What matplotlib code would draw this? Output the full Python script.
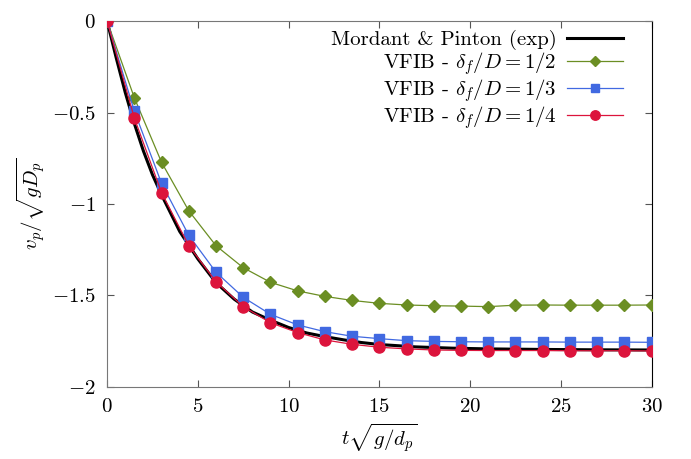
import matplotlib
matplotlib.use("Agg")
import matplotlib.pyplot as plt

plt.rcParams['mathtext.fontset'] = 'cm'
plt.rcParams['font.family'] = ['cmr10', 'DejaVu Serif']
plt.rcParams['axes.unicode_minus'] = False
plt.rcParams['font.size'] = 15

t_exp = [0, 0.5, 1, 1.5, 2, 2.5, 3, 4, 5, 6, 7, 8, 9, 10, 11, 12, 13, 14, 15,
         17, 19, 21, 24, 27, 30]
v_exp = [0, -0.20, -0.39, -0.56, -0.71, -0.84, -0.95, -1.15, -1.30, -1.43,
         -1.52, -1.59, -1.635, -1.675, -1.705, -1.725, -1.742, -1.757, -1.768,
         -1.781, -1.788, -1.792, -1.795, -1.797, -1.798]

# simulation samples
t_sim = [0, 1.5, 3, 4.5, 6, 7.5, 9, 10.5, 12, 13.5, 15, 16.5, 18, 19.5, 21,
         22.5, 24, 25.5, 27, 28.5, 30]
v_half = [0, -0.419, -0.772, -1.037, -1.228, -1.348, -1.428, -1.475, -1.505,
          -1.527, -1.543, -1.552, -1.556, -1.558, -1.561, -1.553, -1.552,
          -1.553, -1.553, -1.553, -1.552]
v_third = [0, -0.492, -0.887, -1.171, -1.373, -1.510, -1.603, -1.661, -1.698,
           -1.723, -1.736, -1.747, -1.751, -1.753, -1.754, -1.754, -1.754,
           -1.755, -1.755, -1.755, -1.756]
v_quarter = [0, -0.530, -0.938, -1.228, -1.425, -1.561, -1.649, -1.703,
             -1.743, -1.767, -1.783, -1.792, -1.798, -1.800, -1.801, -1.801,
             -1.801, -1.802, -1.802, -1.802, -1.803]

xticks = [0, 5, 10, 15, 20, 25, 30]
yticks = [-2, -1.5, -1, -0.5, 0]

fig = plt.figure(figsize=(6.91, 4.59), dpi=100)
ax = fig.add_axes([0.155, 0.157, 0.788, 0.797])

ax.plot(t_exp, v_exp, color='black', lw=2.2, label='Mordant & Pinton (exp)', zorder=3)
ax.plot(t_sim, v_half, color='olivedrab', lw=0.9, marker='D', ms=6,
        label=r'VFIB - $\delta_f/D = 1/2$', zorder=4)
ax.plot(t_sim, v_third, color='royalblue', lw=0.9, marker='s', ms=7.5,
        label=r'VFIB - $\delta_f/D = 1/3$', zorder=4)
ax.plot(t_sim, v_quarter, color='crimson', lw=0.9, marker='o', ms=8,
        label=r'VFIB - $\delta_f/D = 1/4$', zorder=4)

ax.set_xlim(0, 30)
ax.set_ylim(-2, 0)
ax.set_xticks(xticks)
ax.set_yticks(yticks)
ax.set_xticklabels(['$%g$' % v for v in xticks])
ax.set_yticklabels(['$%g$' % v for v in yticks])
ax.tick_params(direction='in', length=5, width=0.8, top=True, right=True,
               colors='#555555', labelcolor='black', pad=8)
for side in ['left', 'bottom', 'top']:
    ax.spines[side].set_color('#777777')
ax.spines['right'].set_color('black')

ax.set_xlabel(r'$t\sqrt{g/d_p}$', labelpad=4)
ax.set_ylabel(r'$v_p/\sqrt{gD_p}$', labelpad=3)

ax.legend(loc='upper right', bbox_to_anchor=(0.975, 1.015), frameon=False,
          markerfirst=False, handlelength=2.7, handletextpad=0.5,
          labelspacing=0.0, borderaxespad=0.3, markerscale=0.85)

fig.savefig('out.png', dpi=100)
